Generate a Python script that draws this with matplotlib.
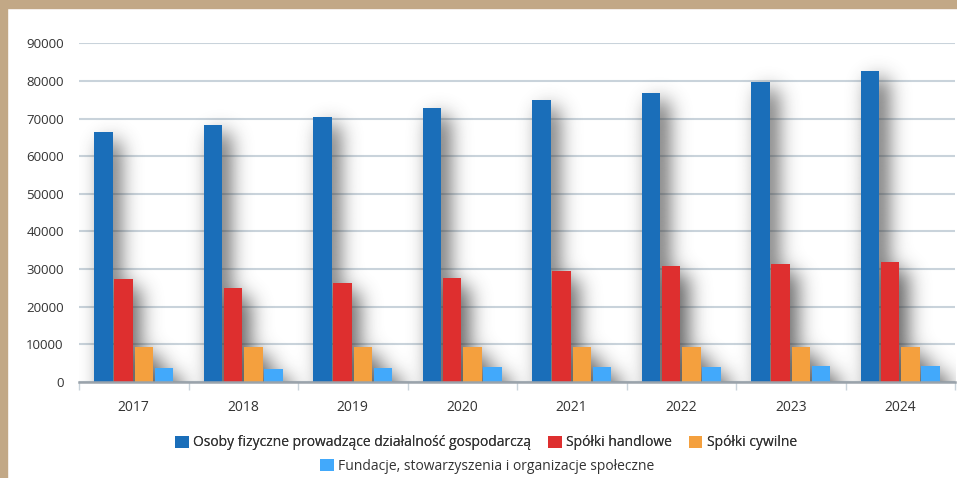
import numpy as np
import matplotlib.pyplot as plt
from matplotlib.patches import Patch, Rectangle

years = ["2017", "2018", "2019", "2020", "2021", "2022", "2023", "2024"]
osoby = [66300, 68200, 70400, 72700, 74900, 76900, 79800, 82600]
handlowe = [27300, 24900, 26300, 27500, 29400, 30800, 31200, 31900]
cywilne = [9200, 9200, 9200, 9300, 9300, 9200, 9200, 9200]
fundacje = [3750, 3400, 3750, 3850, 4000, 4000, 4200, 4300]

series = [
    ("Osoby fizyczne prowadzące działalność gospodarczą", osoby, "#1a6eb9"),
    ("Spółki handlowe", handlowe, "#de2f2f"),
    ("Spółki cywilne", cywilne, "#f4a03e"),
    ("Fundacje, stowarzyszenia i organizacje społeczne", fundacje, "#42a9fb"),
]

plt.rcParams["font.family"] = ["Open Sans", "DejaVu Sans"]
text_color = "#333333"

fig = plt.figure(figsize=(9.57, 4.78), dpi=100)
fig.patch.set_facecolor("white")
# beige frame on top and left
fig.add_artist(Rectangle((0, 1 - 8 / 478), 1, 8 / 478, transform=fig.transFigure,
                         color="#c2a886", zorder=0))
fig.add_artist(Rectangle((0, 0), 7 / 957, 1, transform=fig.transFigure,
                         color="#c2a886", zorder=0))

ax = fig.add_axes([79 / 957, (478 - 381.7) / 478, 876 / 957, (381.7 - 43.3) / 478])
ymax = 90000
ax.set_xlim(-0.5, len(years) - 0.5)
ax.set_ylim(0, ymax)

x = np.arange(len(years))
width = 0.17
step = 0.185

# soft drop shadow behind the bars
W, H = 876, 338
pad = 40
shadow = np.zeros((H + pad, W))
for i, (_, vals, _) in enumerate(series):
    for xi, v in zip(x, vals):
        left = (xi + (i - 1.5) * step - width / 2 + 0.5) * W / len(years) + 8
        right = left + width * W / len(years)
        top = v * H / ymax - 8
        shadow[0:max(int(top), 0) + pad, int(left):min(int(right), W)] = 1.0
sig = 10
k = np.arange(-3 * sig, 3 * sig + 1)
kern = np.exp(-k ** 2 / (2 * sig ** 2))
kern /= kern.sum()
shadow = np.apply_along_axis(lambda r: np.convolve(r, kern, mode="same"), 1, shadow)
shadow = np.apply_along_axis(lambda c: np.convolve(c, kern, mode="same"), 0, shadow)
shadow = shadow[pad:]
rgba = np.zeros((H, W, 4))
rgba[..., :3] = 0.2
rgba[..., 3] = np.clip(shadow * 0.8, 0, 1)
ax.imshow(rgba, extent=[-0.5, len(years) - 0.5, 0, ymax], origin="lower",
          aspect="auto", zorder=2, interpolation="bilinear")

for i, (name, vals, color) in enumerate(series):
    ax.bar(x + (i - 1.5) * step, vals, width=width, color=color, zorder=3, label=name)

ax.set_yticks(np.arange(0, ymax + 1, 10000))
ax.set_yticklabels([str(v) for v in range(0, ymax + 1, 10000)])
ax.yaxis.grid(True, color="#c9d3db", linewidth=1.5, zorder=1)
ax.set_axisbelow(True)
ax.tick_params(axis="y", length=0, pad=11, labelsize=9.5, labelcolor=text_color)

ax.set_xticks(x)
ax.set_xticklabels(years)
ax.set_xticks(np.arange(-0.5, len(years), 1), minor=True)
ax.tick_params(axis="x", which="major", length=0, pad=13, labelsize=10, labelcolor=text_color)
ax.tick_params(axis="x", which="minor", length=6, color="#c9d3db", width=1)

for s in ["top", "right", "left"]:
    ax.spines[s].set_visible(False)
ax.spines["bottom"].set_color("#9aa3ab")
ax.spines["bottom"].set_linewidth(1.8)
ax.spines["bottom"].set_zorder(4)

handles = [Patch(facecolor=c, label=n) for n, _, c in series]
leg1 = fig.legend(handles=handles[:3], loc="center", ncol=3,
                  bbox_to_anchor=(486 / 957, 1 - 443 / 478), frameon=False,
                  fontsize=10, handlelength=1.0, handleheight=1.0,
                  handletextpad=0.3, columnspacing=1.2, labelcolor=text_color)
leg2 = fig.legend(handles=handles[3:], loc="center", ncol=1,
                  bbox_to_anchor=(487 / 957, 1 - 466 / 478), frameon=False,
                  fontsize=10, handlelength=1.0, handleheight=1.0,
                  handletextpad=0.3, labelcolor=text_color)
fig.add_artist(leg1)

fig.savefig("out.png", dpi=100)
